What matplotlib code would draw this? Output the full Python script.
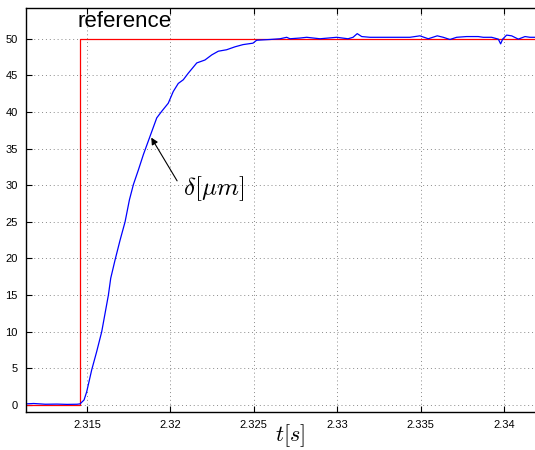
import numpy as np
import matplotlib
matplotlib.use("Agg")
import matplotlib.pyplot as plt

plt.rcParams['font.family'] = ['Liberation Sans', 'DejaVu Sans']
plt.rcParams['mathtext.fontset'] = 'cm'

# reference step
t_ref = [2.31134, 2.31458, 2.31458, 2.34186]
y_ref = [0, 0, 50, 50]

# measured displacement
t_meas = [2.31134, 2.3118, 2.3125, 2.3132, 2.3138, 2.3144, 2.31458, 2.31482, 2.31498,
          2.31528, 2.31558, 2.31588, 2.31608, 2.31628, 2.31642, 2.31668, 2.31698,
          2.31728, 2.31754, 2.31778, 2.31808, 2.31838, 2.31878, 2.31918, 2.31948,
          2.31987, 2.32017, 2.32047, 2.32077, 2.32107, 2.32158, 2.32207, 2.32248,
          2.32287, 2.32337, 2.32387, 2.32435, 2.32495, 2.32517, 2.32597, 2.32657,
          2.32697, 2.32717, 2.32777, 2.32817, 2.32897, 2.32997, 2.33065, 2.33095,
          2.33120, 2.33147, 2.33197, 2.33257, 2.33317, 2.33376, 2.33436, 2.33496,
          2.33546, 2.33600, 2.33636, 2.33676, 2.33716, 2.33776, 2.33846, 2.33876,
          2.33926, 2.33966, 2.33980, 2.33992, 2.34016, 2.34046, 2.34086, 2.34126,
          2.34156, 2.34186]
y_meas = [0.15, 0.2, 0.1, 0.12, 0.08, 0.1, 0.15, 0.68, 1.8,
          4.8, 7.3, 10.0, 12.5, 15.0, 17.3, 19.8, 22.5,
          25.0, 28.0, 30.1, 32.1, 34.2, 36.7, 39.2, 40.1,
          41.2, 42.8, 43.9, 44.4, 45.3, 46.7, 47.1, 47.8,
          48.3, 48.5, 48.9, 49.2, 49.4, 49.8, 49.9, 50.0,
          50.2, 50.0, 50.1, 50.2, 50.0, 50.2, 50.0, 50.2,
          50.7, 50.3, 50.2, 50.2, 50.2, 50.2, 50.2, 50.4,
          50.0, 50.4, 50.2, 49.9, 50.2, 50.3, 50.3, 50.2,
          50.2, 49.95, 49.3, 49.95, 50.5, 50.4, 49.95, 50.3,
          50.2, 50.2]

xticks = [2.315, 2.32, 2.325, 2.33, 2.335, 2.34]
xticklabels = ['2.315', '2.32', '2.325', '2.33', '2.335', '2.34']
yticks = np.arange(0, 51, 5)

fig = plt.figure(figsize=(5.35, 4.5), dpi=100)
ax = fig.add_axes([26/535, 38/450, 509/535, 404/450])

ax.plot(t_ref, y_ref, color='red', lw=0.9)
ax.plot(t_meas, y_meas, color='blue', lw=0.9)

ax.set_xlim(2.31134, 2.34186)
ax.set_ylim(-0.96, 54.2)
ax.set_xticks(xticks)
ax.set_xticklabels(xticklabels)
ax.set_yticks(yticks)
ax.tick_params(direction='in', top=True, right=False, labelsize=8, length=4, pad=6)
ax.grid(True, linestyle=(0, (1, 3)), color='#8a8a8a', lw=0.7)
for s in ['left', 'bottom', 'top']:
    ax.spines[s].set_linewidth(1.0)
ax.spines['right'].set_visible(False)

ax.text(2.31444, 52.3, 'reference', fontsize=16, ha='left', va='center')

# annotation arrow and its label
ax.annotate('', xy=(2.31885, 36.5), xytext=(2.32040, 30.6),
            arrowprops=dict(arrowstyle='-|>', color='black', lw=0.8,
                            mutation_scale=10, shrinkA=0, shrinkB=0))
ax.text(2.32076, 29.6, r'$\delta[\mu m]$', fontsize=18, ha='left', va='center')

ax.set_xlabel(r'$t[s]$', fontsize=16)
ax.xaxis.set_label_coords(0.519, -0.025)

fig.savefig('out.png', dpi=100)
